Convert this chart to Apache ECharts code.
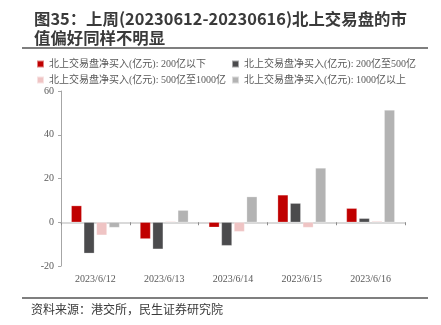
<!DOCTYPE html>
<html>
<head>
<meta charset="utf-8">
<script src="https://cdn.jsdelivr.net/npm/echarts@6/dist/echarts.min.js"></script>
<style>
  html, body { margin: 0; padding: 0; background: #fff; }
  #chart { width: 441px; height: 325px; }
</style>
</head>
<body>
<div id="chart"></div>
<script>
// 北上交易盘净买入（亿元），按市值分组
const categories = ['2023/6/12', '2023/6/13', '2023/6/14', '2023/6/15', '2023/6/16'];
const below200 = [7.6, -7.6, -2.3, 12.5, 6.4];
const from200to500 = [-14.2, -12.3, -10.7, 8.7, 1.8];
const from500to1000 = [-5.9, 0.4, -4.3, -2.4, 0.5];
const above1000 = [-2.4, 5.5, 11.7, 24.8, 51.3];
const yTicks = [-20, 0, 20, 40, 60];

const seriesNames = [
  '北上交易盘净买入(亿元): 200亿以下',
  '北上交易盘净买入(亿元): 200亿至500亿',
  '北上交易盘净买入(亿元): 500亿至1000亿',
  '北上交易盘净买入(亿元): 1000亿以上'
];
const colors = ['#c00000', '#4b4b4d', '#efc4c4', '#b3b3b3'];
const values = [below200, from200to500, from500to1000, above1000];

const serif = '"Liberation Serif", "Noto Sans CJK SC", serif';
const sans = '"Noto Sans CJK SC", sans-serif';

const chart = echarts.init(document.getElementById('chart'), null, { renderer: 'canvas' });

const legendText = { fontFamily: serif, fontSize: 10, color: '#595959' };

chart.setOption({
  animation: false,
  color: colors,
  title: {
    text: '图35：上周(20230612-20230616)北上交易盘的市\n值偏好同样不明显',
    left: 29,
    top: 4,
    textStyle: { fontFamily: sans, fontSize: 16.4, fontWeight: 'bold', color: '#3a3a3a', lineHeight: 19 }
  },
  legend: [
    {
      data: [seriesNames[0], seriesNames[2]],
      orient: 'vertical', left: 31, top: 54,
      itemWidth: 7, itemHeight: 7, itemGap: 6,
      icon: 'rect', textStyle: legendText
    },
    {
      data: [seriesNames[1], seriesNames[3]],
      orient: 'vertical', left: 226, top: 54,
      itemWidth: 7, itemHeight: 7, itemGap: 6,
      icon: 'rect', textStyle: legendText
    }
  ],
  grid: { left: 61, right: 36, top: 91, bottom: 59 },
  xAxis: {
    type: 'category',
    data: categories,
    axisLine: { onZero: true, lineStyle: { color: '#d9d9d9', width: 2 } },
    axisTick: { show: true, interval: 0, length: 3, lineStyle: { color: '#8c8c8c' } },
    axisLabel: {
      fontFamily: serif, fontSize: 10, color: '#595959',
      margin: 8, verticalAlign: 'top'
    }
  },
  yAxis: {
    type: 'value',
    min: yTicks[0], max: yTicks[yTicks.length - 1], interval: 20,
    splitLine: { show: false },
    axisLine: { show: true, lineStyle: { color: '#a6a6a6' } },
    axisTick: { show: true, length: 3, lineStyle: { color: '#a6a6a6' } },
    axisLabel: { fontFamily: serif, fontSize: 10, color: '#595959', margin: 7 }
  },
  series: seriesNames.map((name, i) => ({
    name, type: 'bar', data: values[i],
    barWidth: 10.5, barGap: '20%',
    itemStyle: { color: colors[i], borderColor: 'rgba(255,255,255,0.5)', borderWidth: 0.5 }
  })),
  graphic: [
    { type: 'line', shape: { x1: 22, y1: 48, x2: 428, y2: 48 }, style: { stroke: '#555', lineWidth: 1.5 } },
    { type: 'line', shape: { x1: 22, y1: 298, x2: 428, y2: 298 }, style: { stroke: '#555', lineWidth: 1.5 } },
    { type: 'text', left: 31, top: 303, style: { text: '资料来源：港交所，民生证券研究院', font: '12px "Noto Sans CJK SC", sans-serif', fill: '#3a3a3a' } }
  ]
});
</script>
</body>
</html>
